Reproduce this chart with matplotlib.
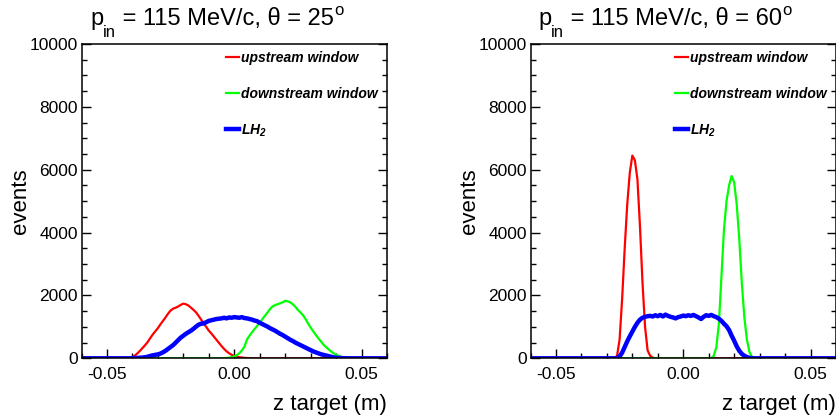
import numpy as np
import matplotlib
matplotlib.use("Agg")
import matplotlib.pyplot as plt
from matplotlib.ticker import MultipleLocator, FormatStrFormatter
from matplotlib.lines import Line2D

plt.rcParams['font.family'] = ['Liberation Sans', 'DejaVu Sans']
plt.rcParams['mathtext.fontset'] = 'custom'
plt.rcParams['mathtext.rm'] = 'Liberation Sans'
plt.rcParams['mathtext.it'] = 'Liberation Sans:italic'
plt.rcParams['mathtext.bf'] = 'Liberation Sans:bold'
plt.rcParams['mathtext.bfit'] = 'Liberation Sans:italic:bold'
plt.rcParams['axes.unicode_minus'] = False

# bin centres of the z-target histograms (m)
z = np.round(np.arange(-0.060, 0.0605, 0.001), 3)

# ---- theta = 25 deg ----
up_25 = ([0] * 19 +                                   # -0.060 .. -0.042
         [10, 40, 90, 160, 240, 330, 420, 520, 640, 760,        # -0.041 .. -0.032
          860, 960, 1080, 1190, 1300, 1420, 1520, 1580, 1610, 1650,  # -0.031 .. -0.022
          1700, 1740, 1720, 1680, 1610, 1540, 1460, 1350, 1230, 1110,  # -0.021 .. -0.012
          1000, 880, 790, 690, 590, 490, 390, 300, 220, 160,    # -0.011 .. -0.002
          110, 70, 50, 35, 25, 15, 10, 5] +                     # -0.001 .. 0.006
         [0] * 54)                                            # 0.007 .. 0.060

down_25 = ([0] * 56 +                                  # -0.060 .. -0.005
           [5, 10, 20, 35, 60, 100, 160, 250, 370, 600,         # -0.004 .. 0.005
            720, 830, 930, 1030, 1130, 1240, 1350, 1450, 1560, 1650,  # 0.006 .. 0.015
            1690, 1720, 1750, 1780, 1830, 1810, 1780, 1720, 1640, 1540,  # 0.016 .. 0.025
            1460, 1370, 1250, 1110, 980, 860, 750, 640, 540, 440,  # 0.026 .. 0.035
            360, 290, 220, 160, 110, 75, 50, 30, 18, 10, 5] +    # 0.036 .. 0.046
           [0] * 14)                                          # 0.047 .. 0.060

lh2_25 = ([0] * 20 +                                   # -0.060 .. -0.041
          [5, 8, 12, 18, 25, 35, 50, 75, 95, 110,               # -0.040 .. -0.031
           125, 150, 190, 240, 300, 360, 420, 500, 580, 660,    # -0.030 .. -0.021
           720, 780, 830, 880, 940, 1010, 1070, 1100, 1110, 1150,  # -0.020 .. -0.011
           1190, 1210, 1230, 1250, 1260, 1270, 1290, 1270, 1300, 1290,  # -0.010 .. -0.001
           1310, 1300, 1290, 1310, 1280, 1270, 1250, 1230, 1200, 1180,  # 0.000 .. 0.009
           1130, 1090, 1050, 1010, 960, 920, 880, 830, 780, 740,  # 0.010 .. 0.019
           690, 640, 590, 550, 500, 460, 420, 380, 340, 300,    # 0.020 .. 0.029
           260, 220, 190, 160, 130, 110, 90, 70, 50, 30,        # 0.030 .. 0.039
           20, 12, 8, 5, 3] +                                   # 0.040 .. 0.044
          [0] * 16)                                           # 0.045 .. 0.060

# ---- theta = 60 deg ----
up_60 = ([0] * 34 +                                    # -0.060 .. -0.027
         [80, 600, 1900, 3500, 4900, 5900, 6450, 6300, 5700, 4200,  # -0.026 .. -0.017
          2400, 1000, 250, 80, 20] +                            # -0.016 .. -0.012
         [0] * 72)                                            # -0.011 .. 0.060

down_60 = ([0] * 71 +                                  # -0.060 .. 0.010
           [10, 80, 350, 1100, 2600, 4100, 5000, 5500, 5800, 5600,  # 0.011 .. 0.020
            4900, 3800, 2400, 1300, 600, 200, 50, 10] +         # 0.021 .. 0.028
           [0] * 32)                                          # 0.029 .. 0.060

lh2_60 = ([0] * 34 +                                   # -0.060 .. -0.027
          [10, 60, 180, 360, 540, 700, 850, 1000, 1130, 1230,   # -0.026 .. -0.017
           1290, 1320, 1340, 1350, 1330, 1370, 1340, 1380, 1330, 1390,  # -0.016 .. -0.007
           1350, 1320, 1300, 1270, 1310, 1330, 1360, 1340, 1370, 1350,  # -0.006 .. 0.003
           1380, 1340, 1300, 1250, 1320, 1370, 1350, 1380, 1340, 1310,  # 0.004 .. 0.013
           1260, 1190, 1100, 1020, 900, 720, 560, 380, 240, 140,  # 0.014 .. 0.023
           80, 40, 15, 5] +                                     # 0.024 .. 0.027
          [0] * 33)                                           # 0.028 .. 0.060

angles = ['25', '60']
labels = ['upstream window', 'downstream window', r'LH$_{\mathbfit{2}}$']
colors = ['#ff0000', '#00ff00', '#0000ff']
widths = [1.6, 1.6, 3.2]
panels = [(up_25, down_25, lh2_25), (up_60, down_60, lh2_60)]

W, H = 836, 417
fig = plt.figure(figsize=(W / 100, H / 100), dpi=100)
fig.patch.set_facecolor('white')
renderer = fig.canvas.get_renderer()


def title_pieces(x_px, base_px, pieces):
    """Write a run of text pieces, each (text, size, baseline shift in px)."""
    x = x_px
    for s, size, dy in pieces:
        t = fig.text(x / W, 1 - (base_px - dy) / H, s, fontsize=size,
                     ha='left', va='baseline')
        x = t.get_window_extent(renderer).x1


lefts = [81.5, 530.5]
title_x = [90, 538]
ax_w = 305.5
y0, y1 = 358.3, 44.0

for k, (series, ang) in enumerate(zip(panels, angles)):
    ax = fig.add_axes([lefts[k] / W, 1 - y0 / H, ax_w / W, (y0 - y1) / H])
    for vals, c, lw in zip(series, colors, widths):
        ax.plot(z, vals, color=c, lw=lw, solid_joinstyle='round')
    ax.set_xlim(-0.06, 0.06)
    ax.set_ylim(0, 10000)

    ax.xaxis.set_major_locator(MultipleLocator(0.05))
    ax.xaxis.set_minor_locator(MultipleLocator(0.01))
    ax.xaxis.set_major_formatter(FormatStrFormatter('%.2f'))
    ax.yaxis.set_major_locator(MultipleLocator(2000))
    ax.yaxis.set_minor_locator(MultipleLocator(500))
    ax.tick_params(which='both', direction='in', top=False, right=True,
                   width=1.0, colors='black')
    ax.tick_params(which='major', length=6.5, labelsize=12.5)
    ax.tick_params(which='minor', length=3.5)
    ax.tick_params(axis='x', which='major', pad=6)
    ax.tick_params(axis='y', which='major', pad=2.5)
    for s in ax.spines.values():
        s.set_linewidth(1.1)

    ax.set_xlabel('z target (m)', fontsize=16, loc='right')
    ax.xaxis.set_label_coords(1.0, -0.112)
    ax.set_ylabel('events', fontsize=16)
    ax.yaxis.set_label_coords(-0.165, 0.5)

    title_pieces(title_x[k], 25, [('p', 17, 0), ('in', 12, -12),
                                  (' = 115 MeV/c, θ = ' + ang, 17, 0),
                                  ('o', 12, 10)])

    handles = [Line2D([], [], color=c, lw=lw) for c, lw in zip(colors, widths)]
    ax.legend(handles, labels, loc='upper left', bbox_to_anchor=(0.455, 0.995),
              frameon=False, handlelength=0.9, handletextpad=0.15,
              labelspacing=1.55, borderaxespad=0.0,
              prop=dict(family='Liberation Sans', weight='bold', style='italic', size=10))

fig.savefig('out.png', dpi=100, facecolor='white')
